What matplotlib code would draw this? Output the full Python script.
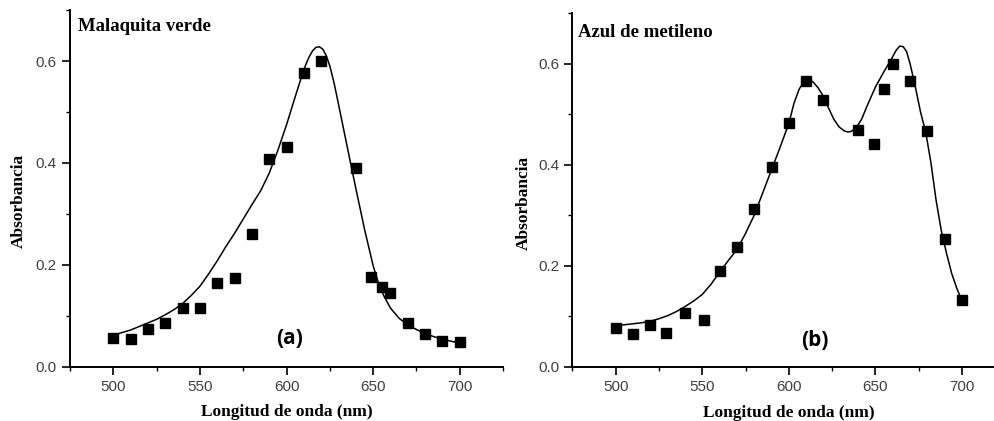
import matplotlib.pyplot as plt
from matplotlib.ticker import MultipleLocator

# measured points, malachite green (a)
wl_a = [500, 510, 520, 530, 540, 550, 560, 570, 580, 590, 600, 610, 620,
        640, 649, 655, 660, 670, 680, 690, 700]
abs_a = [0.057, 0.054, 0.074, 0.085, 0.116, 0.116, 0.164, 0.174, 0.261, 0.408,
         0.431, 0.576, 0.601, 0.391, 0.177, 0.156, 0.144, 0.086, 0.064, 0.050, 0.048]

# fitted curve (a)
fit_wl_a = [500, 505, 510, 515, 520, 525, 530, 535, 540, 545, 550, 555, 560,
            565, 570, 575, 580, 585, 590, 595, 600, 605, 608, 611, 613, 615,
            617, 619, 621, 623, 625, 627.5, 630, 635, 640, 645, 650, 653, 656,
            660, 665, 670, 675, 680, 685, 690, 695, 700]
fit_abs_a = [0.062, 0.067, 0.072, 0.079, 0.086, 0.093, 0.102, 0.112, 0.124,
             0.140, 0.158, 0.182, 0.208, 0.236, 0.262, 0.290, 0.318, 0.345,
             0.380, 0.425, 0.475, 0.530, 0.562, 0.592, 0.608, 0.620, 0.627,
             0.628, 0.623, 0.610, 0.590, 0.556, 0.515, 0.432, 0.350, 0.270,
             0.198, 0.165, 0.140, 0.115, 0.095, 0.082, 0.073, 0.065, 0.059,
             0.054, 0.050, 0.046]

# measured points, methylene blue (b)
wl_b = [500, 510, 520, 529, 540, 551, 560, 570, 580, 590, 600, 610, 620,
        640, 649, 655, 660, 670, 680, 690, 700]
abs_b = [0.076, 0.064, 0.083, 0.066, 0.106, 0.093, 0.190, 0.237, 0.313, 0.396,
         0.482, 0.565, 0.529, 0.468, 0.441, 0.550, 0.600, 0.565, 0.467, 0.253, 0.132]

# fitted curve (b)
fit_wl_b = [500, 505, 510, 515, 520, 525, 530, 535, 540, 545, 550, 555, 560,
            565, 570, 575, 580, 585, 590, 595, 600, 603, 606, 608, 610, 612,
            614, 617, 620, 623, 626, 629, 632, 634, 636, 639, 642, 645, 650,
            655, 659, 662, 664, 666, 668, 670, 673, 676, 679, 682, 685, 688,
            691, 694, 697, 700]
fit_abs_b = [0.081, 0.083, 0.085, 0.087, 0.090, 0.095, 0.101, 0.109, 0.119,
             0.130, 0.143, 0.163, 0.187, 0.210, 0.232, 0.264, 0.300, 0.345,
             0.390, 0.435, 0.482, 0.522, 0.550, 0.561, 0.567, 0.568, 0.564,
             0.552, 0.535, 0.512, 0.490, 0.475, 0.467, 0.465, 0.466, 0.474,
             0.490, 0.515, 0.554, 0.585, 0.608, 0.627, 0.635, 0.634, 0.624,
             0.600, 0.555, 0.505, 0.465, 0.405, 0.330, 0.270, 0.225, 0.185,
             0.155, 0.130]

serif = "Liberation Serif"
sans = "Liberation Sans"

fig = plt.figure(figsize=(9.95, 4.21), dpi=100)
ax1 = fig.add_axes([0.0704, 0.129, 0.4352, 0.847])
ax2 = fig.add_axes([0.5752, 0.129, 0.4352, 0.8394])

panels = [
    (ax1, wl_a, abs_a, fit_wl_a, fit_abs_a, "Malaquita verde", "(a)",
     (0.0185, 0.953), (0.506, 0.080), -0.119, 0.466, -0.127),
    (ax2, wl_b, abs_b, fit_wl_b, fit_abs_b, "Azul de metileno", "(b)",
     (0.013, 0.947), (0.559, 0.0755), -0.113, 0.463, -0.131),
]

for ax, x, y, fx, fy, name, tag, name_pos, tag_pos, ylx, yly, xly in panels:
    ax.plot(fx, fy, color="black", linewidth=1.1, solid_joinstyle="round",
            zorder=2)
    ax.plot(x, y, linestyle="none", marker="s", markersize=7.3,
            color="black", zorder=3)

    ax.set_xlim(475, 725)
    ax.set_ylim(0, 0.7)
    ax.xaxis.set_major_locator(MultipleLocator(50))
    ax.xaxis.set_minor_locator(MultipleLocator(25))
    ax.yaxis.set_major_locator(MultipleLocator(0.2))
    ax.yaxis.set_minor_locator(MultipleLocator(0.1))
    ax.yaxis.set_major_formatter(lambda v, p: f"{v:.1f}")

    for side in ("top", "right"):
        ax.spines[side].set_visible(False)
    for side in ("left", "bottom"):
        ax.spines[side].set_linewidth(1.4)

    ax.tick_params(which="major", direction="out", length=5.5, width=1.2,
                   labelsize=11, labelcolor="#404040", pad=4)
    ax.tick_params(which="minor", direction="out", length=3.2, width=1.0)
    for lab in ax.get_xticklabels() + ax.get_yticklabels():
        lab.set_family(sans)

    ax.text(0.5, xly, "Longitud de onda (nm)", transform=ax.transAxes,
            ha="center", va="center", fontsize=12.5, fontweight="bold",
            family=serif)
    ax.text(ylx, yly, "Absorbancia", transform=ax.transAxes, rotation=90,
            ha="center", va="center", fontsize=12.5, fontweight="bold",
            family=serif)
    ax.text(name_pos[0], name_pos[1], name, transform=ax.transAxes,
            ha="left", va="center", fontsize=13.5, fontweight="bold",
            family=serif)
    ax.text(tag_pos[0], tag_pos[1], tag, transform=ax.transAxes,
            ha="center", va="center", fontsize=15, fontweight="bold",
            family="Open Sans")

fig.savefig("out.png", dpi=100)
